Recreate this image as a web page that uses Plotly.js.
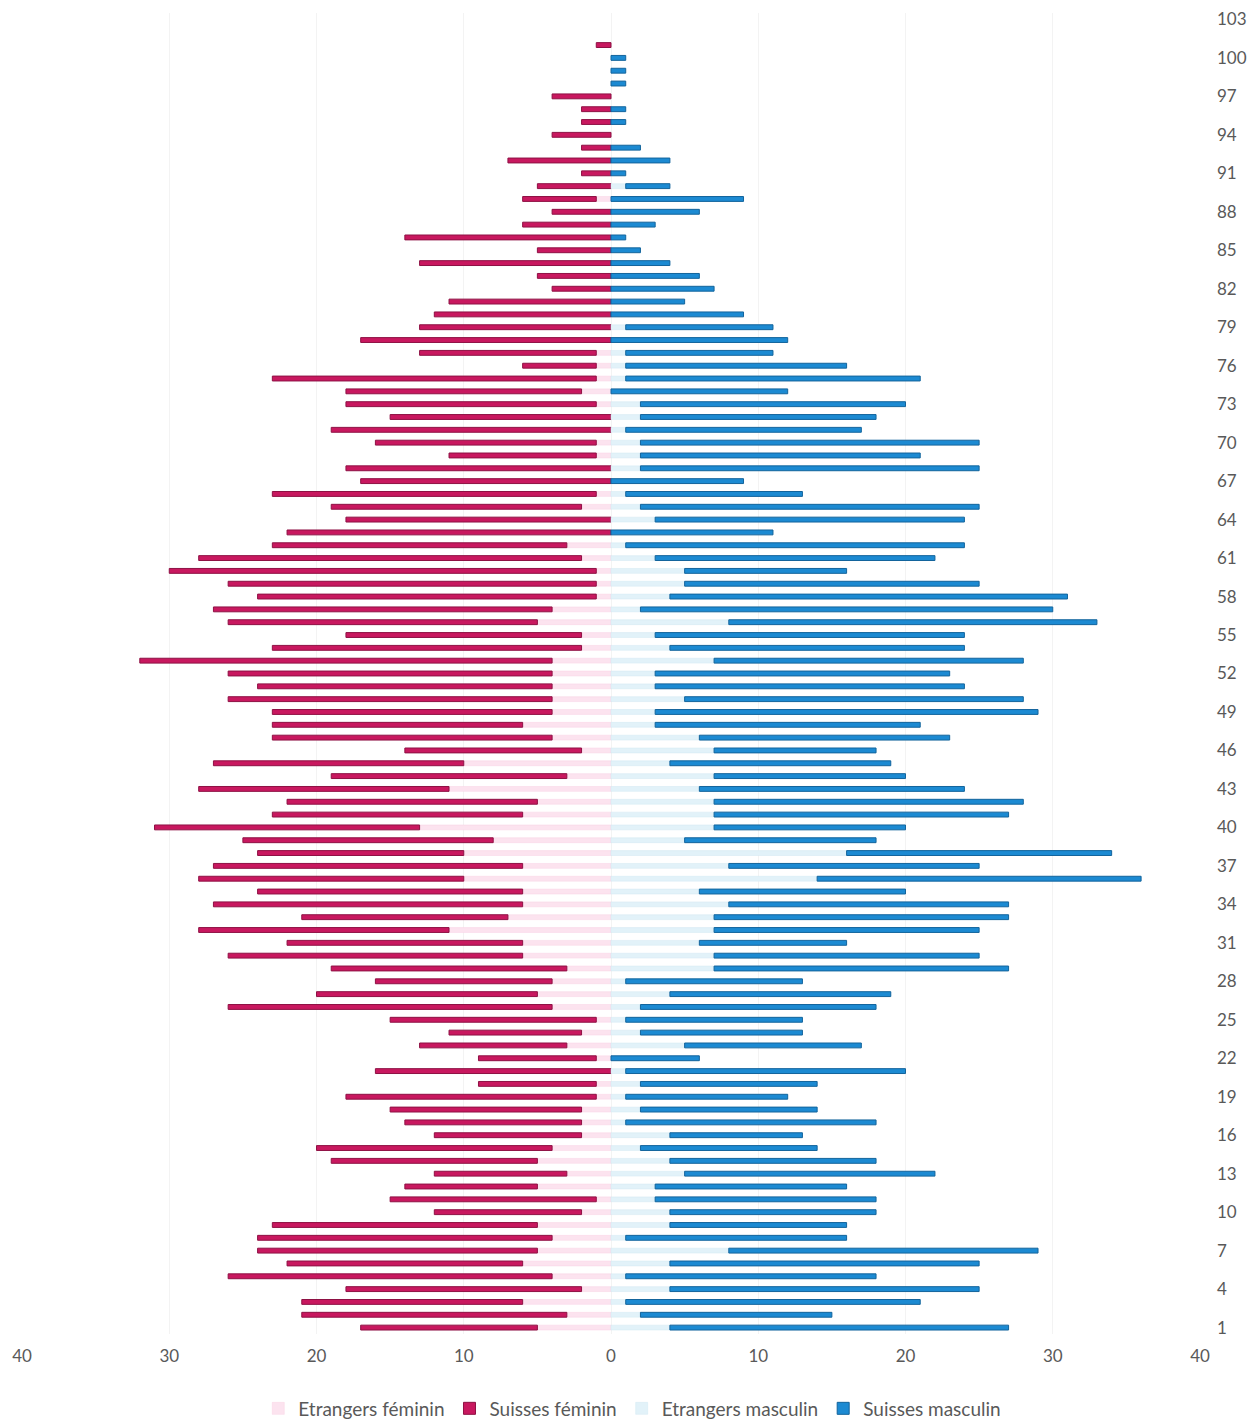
<!DOCTYPE html>
<html>
<head>
<meta charset="utf-8">
<script src="https://cdn.plot.ly/plotly-3.0.1.min.js"></script>
<style>
  html, body { margin: 0; padding: 0; background: #ffffff; }
  #chart { width: 1257px; height: 1422px; }
</style>
</head>
<body>
<div id="chart"></div>
<script>
// Ages 1 .. 103
const ages = Array.from({length: 103}, (_, i) => i + 1);

// Female, foreign residents (count per age, ages 1..103)
const femaleForeign = [
  5,3,6,2,4,6,5,4,5,2,
  1,5,3,5,4,2,2,2,1,1,
  0,1,3,2,1,4,5,4,3,6,
  6,11,7,6,6,10,6,10,8,13,
  6,5,11,3,10,2,4,6,4,4,
  4,4,4,2,2,5,4,1,1,1,
  2,3,0,0,2,1,0,0,1,1,
  0,0,1,2,1,1,1,0,0,0,
  0,0,0,0,0,0,0,0,1,0,
  0,0,0,0,0,0,0,0,0,0,
  0,0,0
];

// Female, Swiss residents
const femaleSwiss = [
  12,18,15,16,22,16,19,20,18,10,
  14,9,9,14,16,10,12,13,17,8,
  16,8,10,9,14,22,15,12,16,20,
  16,17,14,21,18,18,21,14,17,18,
  17,17,17,16,17,12,19,17,19,22,
  20,22,28,21,16,21,23,23,25,29,
  26,20,22,18,17,22,17,18,10,15,
  19,15,17,16,22,5,12,17,13,12,
  11,4,5,13,5,14,6,4,5,5,
  2,7,2,4,2,2,4,0,0,0,
  1,0,0
];

// Male, foreign residents
const maleForeign = [
  4,2,1,4,1,4,8,1,4,4,
  3,3,5,4,2,4,1,2,1,2,
  1,0,5,2,1,2,4,1,7,7,
  6,7,7,8,6,14,8,16,5,7,
  7,7,6,7,4,7,6,3,3,5,
  3,3,7,4,3,8,2,4,5,5,
  3,1,0,3,2,1,0,2,2,2,
  1,2,2,0,1,1,1,0,1,0,
  0,0,0,0,0,0,0,0,0,1,
  0,0,0,0,0,0,0,0,0,0,
  0,0,0
];

// Male, Swiss residents
const maleSwiss = [
  23,13,20,21,17,21,21,15,12,14,
  15,13,17,14,12,9,17,12,11,12,
  19,6,12,11,12,16,15,12,20,18,
  10,18,20,19,14,22,17,18,13,13,
  20,21,18,13,15,11,17,18,26,23,
  21,20,21,20,21,25,28,27,20,11,
  19,23,11,21,23,12,9,23,19,23,
  16,16,18,12,20,15,10,12,10,9,
  5,7,6,4,2,1,3,6,9,3,
  1,4,2,0,1,1,0,1,1,1,
  0,0,0
];

const seriesNames = ["Etrangers féminin", "Suisses féminin", "Etrangers masculin", "Suisses masculin"];
const xTickVals = [-40, -30, -20, -10, 0, 10, 20, 30, 40];
const xTickText = ["40", "30", "20", "10", "0", "10", "20", "30", "40"];
const yTickVals = [1,4,7,10,13,16,19,22,25,28,31,34,37,40,43,46,49,52,55,58,61,64,67,70,73,76,79,82,85,88,91,94,97,100,103];

// Females drawn to the left (negative), empty ages left undrawn
const toLeft = arr => arr.map(v => v === 0 ? null : -v);
const toRight = arr => arr.map(v => v === 0 ? null : v);

function barTrace(name, values, fill, edge, edgeWidth) {
  return {
    type: 'bar',
    orientation: 'h',
    name: name,
    y: ages,
    x: values,
    marker: { color: fill, line: { color: edge, width: edgeWidth } },
    hoverinfo: 'skip'
  };
}

const traces = [
  barTrace(seriesNames[0], toLeft(femaleForeign), '#fce3ef', '#f8d3e4', 0.5),
  barTrace(seriesNames[1], toLeft(femaleSwiss), '#c8185f', '#8e1144', 1),
  barTrace(seriesNames[2], toRight(maleForeign), '#e2f2f9', '#d2e8f2', 0.5),
  barTrace(seriesNames[3], toRight(maleSwiss), '#1c8ad2', '#13649c', 1)
];

const layout = {
  width: 1257,
  height: 1422,
  margin: { l: 22, r: 57, t: 13, b: 88 },
  paper_bgcolor: '#ffffff',
  plot_bgcolor: '#ffffff',
  barmode: 'relative',
  bargap: 0.62,
  showlegend: true,
  font: { family: 'Lato, "Open Sans", sans-serif', color: '#595959', size: 17 },
  xaxis: {
    range: [-40, 40],
    tickvals: xTickVals,
    ticktext: xTickText,
    showgrid: true,
    gridcolor: '#f3f3f3',
    gridwidth: 1,
    zeroline: false,
    showline: false,
    ticks: '',
    ticklabelstandoff: 10,
    tickfont: { size: 17, color: '#595959' },
    fixedrange: true
  },
  yaxis: {
    range: [0.5, 103.5],
    side: 'right',
    tickvals: yTickVals,
    showgrid: false,
    zeroline: false,
    showline: false,
    ticks: '',
    ticklabelstandoff: 16,
    tickfont: { size: 17, color: '#595959' },
    fixedrange: true
  },
  legend: {
    orientation: 'h',
    xref: 'container',
    yref: 'container',
    x: 0.503,
    xanchor: 'center',
    y: 0.0095,
    yanchor: 'middle',
    font: { size: 19, color: '#595959' },
    traceorder: 'normal',
    itemwidth: 30,
    itemclick: false
  }
};

Plotly.newPlot('chart', traces, layout, { displayModeBar: false, staticPlot: true });
</script>
</body>
</html>
